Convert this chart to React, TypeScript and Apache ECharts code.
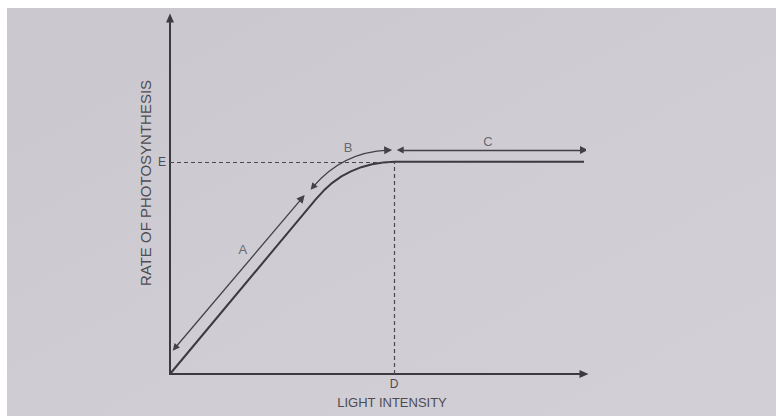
import React, { useEffect, useRef } from "react";
import * as echarts from "echarts";

// Light-response curve of photosynthesis: linear rise, bend, then plateau.
const lightIntensity = [0, 35.3, 37.2, 39.2, 41.4, 43.7, 46.2, 48.8, 51.5, 54.3, 100];
const photosynthesisRate = [0, 49.2, 51.6, 53.7, 55.5, 56.9, 58.1, 58.9, 59.4, 59.6, 59.6];

// Light saturation point (D) and maximum rate (E)
const saturationIntensity = 54.1;
const maxRate = 59.6;

// Phase arrows drawn beside the curve: [start, end] in data units
const arrowA = [[1.2, 7.3], [31.9, 49.4]];
const arrowB = [[34.5, 52.5], [52.7, 62.9]];
const arrowC = [[55.6, 62.9], [100, 62.9]];

const phaseNames = ["A", "B", "C"];
const phaseLabelPoints = [[17.6, 35.1], [43.0, 63.5], [76.8, 65.4]];

const INK = "#3a3a3f";
const TEXT = "#4c4c52";
const FONT = '"Liberation Sans", Arial, sans-serif';

export default function App() {
  const ref = useRef<HTMLDivElement>(null);

  useEffect(() => {
    if (!ref.current) return;
    const chart = echarts.init(ref.current, undefined, { renderer: "svg" });

    const axisCommon = {
      type: "value" as const,
      min: 0,
      max: 100,
      axisLine: {
        show: true,
        onZero: false,
        symbol: ["none", "triangle"],
        symbolSize: [8, 9],
        lineStyle: { color: INK, width: 2 },
      },
      axisTick: { show: false },
      axisLabel: { show: false },
      splitLine: { show: false },
    };

    chart.setOption({
      animation: false,
      backgroundColor: "#ffffff",
      textStyle: { fontFamily: FONT },
      graphic: [
        {
          type: "rect",
          z: -10,
          silent: true,
          shape: { x: 7, y: 8, width: 769, height: 408 },
          style: {
            fill: new echarts.graphic.LinearGradient(0, 0, 1, 1, [
              { offset: 0, color: "#cac8ce" },
              { offset: 0.5, color: "#cfcdd3" },
              { offset: 1, color: "#d2d0d6" },
            ]),
          },
        },
        {
          type: "text",
          x: 145,
          y: 183,
          rotation: Math.PI / 2,
          silent: true,
          style: {
            text: "RATE OF PHOTOSYNTHESIS",
            fill: TEXT,
            font: `15px ${FONT}`,
            align: "center",
            verticalAlign: "middle",
          },
        },
        {
          type: "text",
          x: 392,
          y: 402,
          silent: true,
          style: {
            text: "LIGHT INTENSITY",
            fill: TEXT,
            font: `13px ${FONT}`,
            align: "center",
            verticalAlign: "middle",
          },
        },
      ],
      grid: { left: 170, right: 192, top: 18, bottom: 42 },
      xAxis: axisCommon,
      yAxis: axisCommon,
      series: [
        {
          type: "line",
          data: lightIntensity.map((x, i) => [x, photosynthesisRate[i]]),
          showSymbol: false,
          lineStyle: { color: INK, width: 2 },
          z: 3,
          markLine: {
            silent: true,
            symbol: ["none", "none"],
            lineStyle: { type: [4, 3], color: "#48484d", width: 1.2 },
            label: {
              show: true,
              position: "start",
              distance: 4,
              color: TEXT,
              fontSize: 12,
              fontFamily: FONT,
              formatter: (p: any) => p.name,
            },
            data: [
              [
                { name: "E", coord: [0, maxRate] },
                { coord: [saturationIntensity, maxRate] },
              ],
              [
                { name: "D", coord: [saturationIntensity, 0] },
                { coord: [saturationIntensity, maxRate] },
              ],
            ],
          },
        },
        {
          type: "lines",
          coordinateSystem: "cartesian2d",
          symbol: ["triangle", "triangle"],
          symbolSize: [7, 8],
          lineStyle: { color: "#414146", width: 1.3, opacity: 1, curveness: 0 },
          z: 4,
          data: [
            { coords: arrowA },
            { coords: arrowB, lineStyle: { curveness: 0.22 } },
            { coords: arrowC },
          ],
        },
        {
          type: "scatter",
          symbolSize: 0,
          silent: true,
          data: phaseNames.map((n, i) => ({ name: n, value: phaseLabelPoints[i] })),
          label: {
            show: true,
            position: "inside",
            formatter: "{b}",
            color: TEXT,
            fontSize: 13,
            fontFamily: FONT,
          },
        },
      ],
    });

    return () => chart.dispose();
  }, []);

  return (
    <div
      ref={ref}
      style={{ position: "fixed", left: 0, top: 0, width: 776, height: 416 }}
    />
  );
}
